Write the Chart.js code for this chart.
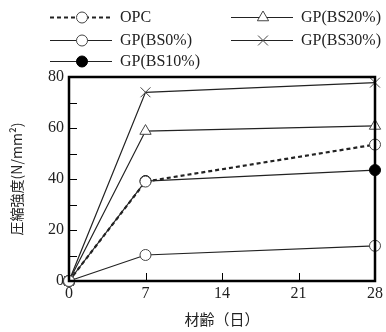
<!DOCTYPE html>
<html>
<head>
<meta charset="utf-8">
<script src="https://cdn.jsdelivr.net/npm/chart.js@4"></script>
<style>
  html, body { margin: 0; padding: 0; background: #fff; }
  #wrap { width: 386px; height: 332px; }
</style>
</head>
<body>
<div id="wrap"><canvas id="strengthChart" width="386" height="332"></canvas></div>
<script>
// data (age in days, strength in N/mm2)
const ages = [0, 7, 28];
const opc = [0, 39, 53.5];
const bs0 = [0, 10.2, 13.8];
const bs10 = [0, 39.2, 43.5];
const bs20 = [0, 58.8, 60.8];
const bs30 = [0, 74, 77.8];
const seriesNames = ["OPC", "GP(BS0%)", "GP(BS10%)", "GP(BS20%)", "GP(BS30%)"];

const xTicks = [0, 7, 14, 21, 28];
const yLabelTicks = [0, 20, 40, 60, 80];

const serif = "'Liberation Serif', 'DejaVu Serif', serif";
const cjk = "'Noto Sans CJK JP', 'Noto Sans', sans-serif";

function pts(values) {
    return ages.map((a, i) => ({ x: a, y: values[i] }));
}

function makeSet(label, values, style, fill, radius, dashed, rotation) {
    return {
        label: label,
        data: pts(values),
        borderColor: '#222',
        borderWidth: dashed ? 2.2 : 1.2,
        borderDash: dashed ? [4, 3] : [],
        pointStyle: style,
        pointRadius: radius,
        pointRotation: rotation || 0,
        pointBackgroundColor: fill,
        pointBorderColor: '#444',
        pointBorderWidth: 1,
        tension: 0,
        clip: false
    };
}

const datasets = [
    makeSet(seriesNames[0], opc, 'circle', '#fff', 5.5, true),
    makeSet(seriesNames[1], bs0, 'circle', '#fff', 5.5, false),
    makeSet(seriesNames[2], bs10, 'circle', '#000', 5.5, false),
    makeSet(seriesNames[3], bs20, 'triangle', '#fff', 6.5, false),
    makeSet(seriesNames[4], bs30, 'crossRot', '#fff', 7, false)
];
datasets[2].pointBorderColor = '#000';

// legend slots: [x of line start, y]
const legendSlots = [[50, 17], [50, 40], [50, 61], [231, 17], [231, 40]];

// draws the box, inward ticks and the legend
const framePlugin = {
    id: 'frame',
    afterDatasetsDraw(chart) {
        const ctx = chart.ctx;
        const a = chart.chartArea;
        const xs = chart.scales.x, ys = chart.scales.y;
        ctx.save();
        ctx.strokeStyle = '#000';
        ctx.lineWidth = 1;
        xs.ticks.forEach(t => {
            const px = Math.round(xs.getPixelForValue(t.value)) + 0.5;
            ctx.beginPath();
            ctx.moveTo(px, a.bottom);
            ctx.lineTo(px, a.bottom - 8);
            ctx.stroke();
        });
        ys.ticks.forEach(t => {
            const py = Math.round(ys.getPixelForValue(t.value)) + 0.5;
            ctx.beginPath();
            ctx.moveTo(a.left, py);
            ctx.lineTo(a.left + 8, py);
            ctx.stroke();
        });
        ctx.lineWidth = 2.5;
        ctx.strokeRect(a.left, a.top, a.right - a.left, a.bottom - a.top);
        ctx.restore();
    },
    afterDraw(chart) {
        const ctx = chart.ctx;
        ctx.save();
        chart.data.datasets.forEach((ds, i) => {
            const [x0, y] = legendSlots[i];
            ctx.strokeStyle = ds.borderColor;
            ctx.lineWidth = ds.borderWidth;
            ctx.setLineDash(ds.borderDash);
            ctx.beginPath();
            ctx.moveTo(x0, y + 0.5);
            ctx.lineTo(x0 + 62, y + 0.5);
            ctx.stroke();
            ctx.setLineDash([]);
            ctx.fillStyle = ds.pointBackgroundColor;
            ctx.strokeStyle = ds.pointBorderColor;
            ctx.lineWidth = 1;
            Chart.helpers.drawPoint(ctx, {
                pointStyle: ds.pointStyle,
                radius: ds.pointRadius,
                rotation: ds.pointRotation,
                borderWidth: 1
            }, x0 + 32, y + 0.5);
            ctx.fillStyle = '#222';
            ctx.font = "16px " + serif;
            ctx.textBaseline = 'middle';
            ctx.textAlign = 'left';
            ctx.fillText(ds.label, x0 + 70, y + 1);
        });
        ctx.restore();
    }
};

const ctx = document.getElementById('strengthChart').getContext('2d');
new Chart(ctx, {
    type: 'line',
    data: { datasets: datasets },
    options: {
        responsive: false,
        animation: false,
        layout: { padding: { top: 77, right: 10, left: 0, bottom: 4 } },
        plugins: { legend: { display: false }, tooltip: { enabled: false } },
        scales: {
            x: {
                type: 'linear',
                min: 0, max: 28,
                afterFit: s => { s.height = 47; },
                afterBuildTicks: s => { s.ticks = xTicks.map(v => ({ value: v })); },
                grid: { display: false, drawTicks: false },
                border: { display: false },
                ticks: { color: '#222', padding: 3, font: { family: serif, size: 16 } },
                title: {
                    display: true, text: '材齢（日）', color: '#222',
                    font: { family: cjk, size: 15 }, padding: { top: 0, bottom: 0 }
                }
            },
            y: {
                min: 0, max: 80,
                afterFit: s => { s.width = 69; },
                ticks: {
                    stepSize: 10, color: '#222', padding: 5,
                    font: { family: serif, size: 16 },
                    callback: v => yLabelTicks.includes(v) ? v : ''
                },
                grid: { display: false, drawTicks: false },
                border: { display: false },
                title: {
                    display: true, text: '圧縮強度(N/mm²)', color: '#222',
                    font: { family: cjk, size: 14 }, padding: { top: 8, bottom: 0 }
                }
            }
        }
    },
    plugins: [framePlugin]
});
</script>
</body>
</html>
